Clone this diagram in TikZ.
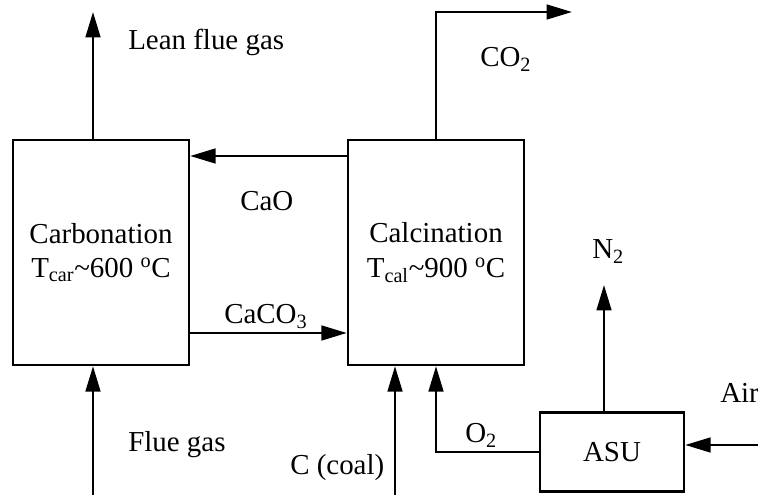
\documentclass[tikz,border=0pt]{standalone}
\usepackage{fontspec}
\setmainfont{Liberation Serif}
\usetikzlibrary{arrows.meta}
\begin{document}
\begin{tikzpicture}[x=0.75pt,y=-0.75pt,
  font=\fontsize{21.7}{26}\selectfont,
  box/.style={draw,line width=1.8pt,inner sep=0pt,align=center},
  arr/.style={line width=1.8pt,-{Triangle[length=19pt,width=11pt]}},
  lbl/.style={anchor=base west,inner sep=0pt}]
\useasboundingbox (0,0) rectangle (758,495);
\clip (0,0) rectangle (758,495);
\node[box,minimum width=132pt,minimum height=168.75pt] (carb) at (101,252.5) {Carbonation\\T\textsubscript{car}\char"007E 600 \textsuperscript{o}C};
\node[box,minimum width=132pt,minimum height=168.75pt] (calc) at (436,252.5) {Calcination\\T\textsubscript{cal}\char"007E 900 \textsuperscript{o}C};
\node[box,minimum width=108pt,minimum height=59.25pt] (asu) at (612,452) {ASU};
% free ends
\coordinate (lfg) at (93,12);
\coordinate (fg) at (93,500);
\coordinate (coal) at (395,500);
\coordinate (co2end) at (572,12);
\coordinate (n2) at (604,285);
\coordinate (air) at (770,445);
\coordinate (caoY) at (0,156);
\coordinate (caco3Y) at (0,333);
% connectors
\draw[arr] (carb.north -| lfg) -- (lfg);
\draw[arr] (fg) -- (fg |- carb.south);
\draw[arr] (calc.west |- caoY) -- (carb.east |- caoY);
\draw[arr] (carb.east |- caco3Y) -- (calc.west |- caco3Y);
\draw[arr] (calc.north) |- (co2end);
\draw[arr] (coal) -- (coal |- calc.south);
\draw[arr] (asu.west) -| (calc.south);
\draw[arr] (asu.north -| n2) -- (n2);
\draw[arr] (air) -- (asu.east |- air);
% labels
\node[lbl] (tlfg) at (128,50) {Lean flue gas};
\node[lbl] (tcao) at (240,211) {CaO};
\node[lbl] (tcaco3) at (224,324) {CaCO\textsubscript{3}};
\node[lbl] (tco2) at (480,67) {CO\textsubscript{2}};
\node[lbl] (tn2) at (592,259) {N\textsubscript{2}};
\node[lbl] (tair) at (720,403) {Air};
\node[lbl] (to2) at (465,443) {O\textsubscript{2}};
\node[lbl] (tfg) at (128,452) {Flue gas};
\node[lbl] (tcoal) at (290,475) {C (coal)};
\end{tikzpicture}
\end{document}
